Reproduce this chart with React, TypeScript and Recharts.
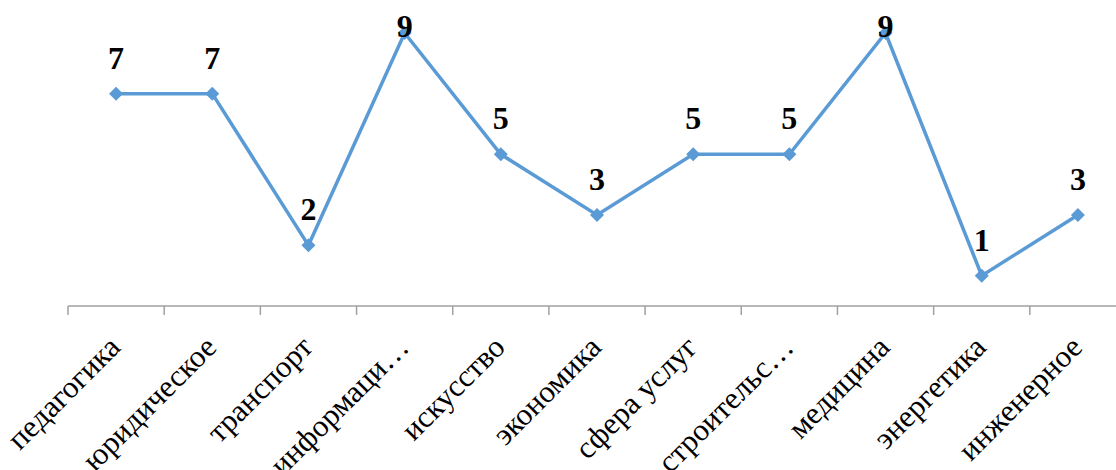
import React from "react";
import { LineChart, Line, XAxis, YAxis, LabelList } from "recharts";

const categories = [
  "педагогика",
  "юридическое",
  "транспорт",
  "информаци…",
  "искусство",
  "экономика",
  "сфера услуг",
  "строительс…",
  "медицина",
  "энергетика",
  "инженерное",
];
const values = [7, 7, 2, 9, 5, 3, 5, 5, 9, 1, 3];

const data = categories.map((c, i) => ({ name: c, value: values[i] }));

const ML = 68;
const PLOT_W = 1058;
const CHART_W = ML + PLOT_W;
const CHART_H = 470;
const MT = 33;
const XH = 164;
const BAND = PLOT_W / categories.length;
const BLUE = "#5B9BD5";
const AXIS = "#a0a0a0";
const SERIF = "'Liberation Serif', 'Times New Roman', serif";

const Tick = (props: any) => {
  const { x, y, payload } = props;
  const bx = x - BAND / 2;
  const tx = x + 6;
  const ty = y + 43;
  return (
    <g>
      <line x1={bx} y1={y} x2={bx} y2={y + 9} stroke={AXIS} strokeWidth={1.5} />
      <text
        x={tx}
        y={ty}
        transform={`rotate(-45 ${tx} ${ty})`}
        textAnchor="end"
        fontFamily={SERIF}
        fontSize={31}
        fill="#000"
      >
        {payload.value}
      </text>
    </g>
  );
};

const Diamond = (props: any) => {
  const { cx, cy } = props;
  if (cx == null || cy == null) return null;
  const s = 7;
  return (
    <polygon
      points={`${cx},${cy - s} ${cx + s},${cy} ${cx},${cy + s} ${cx - s},${cy}`}
      fill={BLUE}
      stroke="none"
    />
  );
};

const ValueLabel = (props: any) => {
  const { x, y, value } = props;
  const by = Math.max(y - 25, 37);
  return (
    <text
      x={x}
      y={by}
      textAnchor="middle"
      fontFamily={SERIF}
      fontWeight="bold"
      fontSize={32}
      fill="#000"
    >
      {value}
    </text>
  );
};

export default function App() {
  return (
    <div
      style={{
        position: "absolute",
        left: 0,
        top: 0,
        width: 1116,
        height: 470,
        overflow: "hidden",
        background: "#fff",
      }}
    >
      <LineChart
        width={CHART_W}
        height={CHART_H}
        data={data}
        margin={{ top: MT, right: 0, bottom: 0, left: ML }}
      >
        <XAxis
          dataKey="name"
          interval={0}
          height={XH}
          padding={{ left: BAND / 2, right: BAND / 2 }}
          tickLine={false}
          tickSize={0}
          tickMargin={0}
          axisLine={{ stroke: AXIS, strokeWidth: 1.5 }}
          tick={<Tick />}
        />
        <YAxis hide domain={[0, 9]} />
        <Line
          type="linear"
          dataKey="value"
          stroke={BLUE}
          strokeWidth={3.5}
          dot={<Diamond />}
          activeDot={false}
          isAnimationActive={false}
        >
          <LabelList dataKey="value" content={<ValueLabel />} />
        </Line>
      </LineChart>
    </div>
  );
}
